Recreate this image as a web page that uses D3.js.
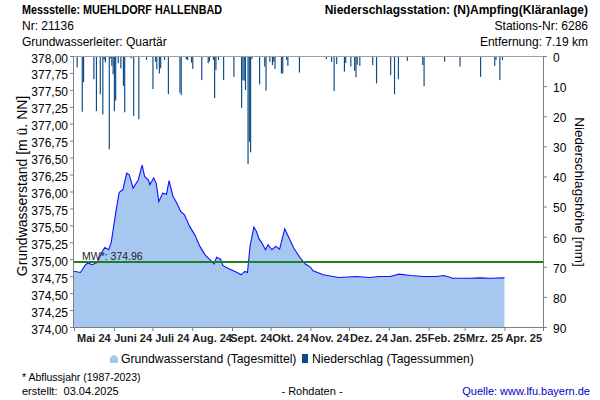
<!DOCTYPE html>
<html><head><meta charset="utf-8">
<script src="https://cdn.jsdelivr.net/npm/d3@7"></script>
<style>
body{margin:0;background:#fff;}
svg{font-family:Arial,"Liberation Sans",sans-serif;}
</style></head>
<body><svg id="c" width="600" height="400"></svg>
<script>
// ---- data ----
const gwDates = ["2024-05-01","2024-05-02","2024-05-06","2024-05-10","2024-05-12","2024-05-15","2024-05-19","2024-05-23","2024-05-25","2024-05-28","2024-05-30","2024-06-02","2024-06-05","2024-06-06","2024-06-08","2024-06-11","2024-06-13","2024-06-16","2024-06-20","2024-06-23","2024-06-25","2024-06-28","2024-06-29","2024-07-02","2024-07-04","2024-07-06","2024-07-09","2024-07-12","2024-07-14","2024-07-17","2024-07-20","2024-07-23","2024-07-26","2024-07-30","2024-08-03","2024-08-07","2024-08-11","2024-08-15","2024-08-18","2024-08-20","2024-08-23","2024-08-25","2024-08-30","2024-09-05","2024-09-08","2024-09-11","2024-09-13","2024-09-15","2024-09-18","2024-09-20","2024-09-22","2024-09-24","2024-09-27","2024-09-29","2024-10-02","2024-10-05","2024-10-08","2024-10-12","2024-10-15","2024-10-19","2024-10-24","2024-10-28","2024-11-01","2024-11-03","2024-11-11","2024-11-23","2024-12-07","2024-12-17","2024-12-25","2025-01-02","2025-01-09","2025-01-18","2025-01-28","2025-02-07","2025-02-13","2025-02-20","2025-03-05","2025-03-13","2025-03-21","2025-04-01"];
const gwValues = [374.82,374.82,374.805,374.92,374.945,374.92,374.95,375.115,375.175,375.14,375.25,375.63,375.975,376.0,376.025,376.27,376.245,376.05,376.17,376.39,376.22,376.17,376.10,376.20,376.12,375.85,375.975,375.96,376.16,375.93,375.83,375.705,375.655,375.485,375.36,375.19,375.065,374.99,374.93,375.03,375.00,374.905,374.855,374.805,374.77,374.82,374.805,375.19,375.475,375.41,375.30,375.25,375.14,375.215,375.14,375.19,375.15,375.45,375.33,375.165,375.02,374.93,374.885,374.83,374.77,374.73,374.745,374.73,374.745,374.745,374.78,374.76,374.745,374.745,374.76,374.72,374.72,374.725,374.72,374.725];
const precipDates = ["2024-05-03","2024-05-07","2024-05-08","2024-05-16","2024-05-18","2024-05-21","2024-05-23","2024-05-24","2024-05-25","2024-05-28","2024-05-29","2024-05-30","2024-05-31","2024-06-01","2024-06-02","2024-06-04","2024-06-06","2024-06-08","2024-06-09","2024-06-14","2024-06-16","2024-06-20","2024-06-26","2024-07-01","2024-07-03","2024-07-04","2024-07-06","2024-07-07","2024-07-10","2024-07-13","2024-07-22","2024-07-23","2024-07-27","2024-07-28","2024-07-31","2024-08-01","2024-08-08","2024-08-13","2024-08-14","2024-08-17","2024-08-18","2024-08-19","2024-08-21","2024-08-25","2024-09-02","2024-09-08","2024-09-09","2024-09-10","2024-09-11","2024-09-13","2024-09-14","2024-09-15","2024-09-16","2024-09-22","2024-09-26","2024-09-27","2024-09-30","2024-10-02","2024-10-03","2024-10-04","2024-10-09","2024-10-10","2024-10-13","2024-10-14","2024-10-23","2024-11-13","2024-11-17","2024-11-19","2024-11-21","2024-11-27","2024-11-28","2024-12-02","2024-12-05","2024-12-06","2024-12-07","2024-12-09","2024-12-19","2024-12-22","2025-01-02","2025-01-05","2025-01-08","2025-01-15","2025-01-27","2025-01-28","2025-02-13","2025-02-25","2025-03-13","2025-03-24","2025-03-25","2025-03-28","2025-03-30"];
const precipValues = [3.8,18.5,8.7,7.7,18.3,12.7,19.4,1.3,2.1,31.0,0.8,3.3,6.1,18.3,14.8,2.4,4.1,9.9,18.7,0.8,19.9,21.0,1.3,11.0,1.9,4.4,5.8,4.1,1.3,12.7,12.2,13.0,1.1,1.3,2.2,4.3,8.0,2.4,1.8,1.3,14.0,4.6,1.3,8.0,6.9,17.2,8.0,8.2,11.3,35.9,28.5,32.0,1.0,9.4,3.5,11.5,1.9,3.0,1.9,4.3,5.8,5.8,1.3,3.3,5.5,1.0,1.9,11.6,2.7,5.2,2.3,3.5,4.9,7.1,2.9,3.3,3.0,9.1,6.3,12.7,7.7,1.6,3.0,10.0,1.9,3.5,6.9,3.3,1.3,8.0,1.3];
const monthLabels = ["Mai 24","Juni 24","Juli 24","Aug. 24","Sept. 24","Okt. 24","Nov. 24","Dez. 24","Jan. 25","Feb. 25","Mrz. 25","Apr. 25"];
const leftTicks = [374,374.25,374.5,374.75,375,375.25,375.5,375.75,376,376.25,376.5,376.75,377,377.25,377.5,377.75,378];
const rightTicks = [0,10,20,30,40,50,60,70,80,90];
const meanValue = 374.96;

// ---- chart ----
const svg = d3.select("#c");
const parse = d3.timeParse("%Y-%m-%d");
const L = 74, R = 543, T = 56, B = 327;
const x = d3.scaleTime().domain([new Date(2024,4,1), new Date(2025,4,1)]).range([L, R]);
const yL = d3.scaleLinear().domain([374,378]).range([B, T]);
const yR = d3.scaleLinear().domain([0,90]).range([T, B]);

const gw = gwDates.map((d,i)=>({date:parse(d), v:gwValues[i]}));
const pr = precipDates.map((d,i)=>({date:parse(d), v:precipValues[i]}));

// groundwater area
svg.append("path").datum(gw)
  .attr("fill","#a6c8f0")
  .attr("d", d3.area().x(d=>x(d.date)).y0(yL(374)).y1(d=>yL(d.v)));
svg.append("path").datum(gw)
  .attr("fill","none").attr("stroke","#1010ff").attr("stroke-width",1.1)
  .attr("d", d3.line().x(d=>x(d.date)).y(d=>yL(d.v)));

// precipitation bars (hanging from top)
const dayW = x(new Date(2024,4,2)) - x(new Date(2024,4,1));
svg.append("g").selectAll("rect").data(pr).join("rect")
  .attr("x", d=>x(d.date)).attr("y", yR(0))
  .attr("width", dayW*0.9).attr("height", d=>yR(d.v)-yR(0))
  .attr("fill","#0b4a84");

// mean line
svg.append("line").attr("x1",L).attr("x2",R)
  .attr("y1",yL(meanValue)).attr("y2",yL(meanValue))
  .attr("stroke","#1f7f1f").attr("stroke-width",2);
svg.append("text").attr("x",82).attr("y",yL(meanValue)-2)
  .attr("font-size",10.5).attr("fill","#222").text("MW*: " + meanValue.toFixed(2));

// frame top
svg.append("line").attr("x1",L).attr("x2",R).attr("y1",T+0.5).attr("y2",T+0.5)
  .attr("stroke","#a0a0a0");

// axes
const fmt = d => d3.format(".2f")(d).replace(".", ",");
const ga = svg.append("g").attr("transform",`translate(${L},0)`)
  .call(d3.axisLeft(yL).tickValues(leftTicks).tickFormat(fmt).tickSize(4).tickPadding(2));
const gr = svg.append("g").attr("transform",`translate(${R},0)`)
  .call(d3.axisRight(yR).tickValues(rightTicks).tickSize(4).tickPadding(6));
const months = d3.timeMonth.range(new Date(2024,4,1), new Date(2025,4,2));
const gb = svg.append("g").attr("transform",`translate(0,${B})`)
  .call(d3.axisBottom(x).tickValues(months).tickFormat("").tickSize(4));
[ga,gr,gb].forEach(g=>{
  g.selectAll(".domain").attr("stroke","#808080");
  g.selectAll(".tick line").attr("stroke","#808080");
  g.selectAll("text").attr("font-size",12).attr("fill","#000").attr("font-family",'Arial,"Liberation Sans",sans-serif');
});
ga.selectAll(".tick text").attr("dy","0.5em");
gr.selectAll(".tick text").attr("dy","0.45em");
ga.select(".domain").attr("d",`M-0.5,${T}V${B+0.5}`);
gr.select(".domain").attr("d",`M0.5,${T}V${B+0.5}`);
gb.select(".domain").attr("d",`M${L},0.5H${R}`);

// month labels centered
svg.append("g").selectAll("text").data(monthLabels).join("text")
  .attr("x",(d,i)=>{const a=months[i], b=months[i+1]; return (x(a)+x(b))/2;})
  .attr("y",342).attr("text-anchor","middle").attr("font-size",11)
  .attr("font-weight","bold").attr("fill","#222").text(d=>d);

// axis titles
svg.append("text").attr("transform","translate(27,186) rotate(-90)")
  .attr("text-anchor","middle").attr("font-size",14).text("Grundwasserstand [m ü. NN]");
svg.append("text").attr("transform","translate(575,192) rotate(90)")
  .attr("text-anchor","middle").attr("font-size",13.5).text("Niederschlagshöhe [mm]");

// header
const hdr = svg.append("g").attr("font-size",12).attr("fill","#000");
hdr.append("text").attr("x",22).attr("y",14).attr("font-weight","bold")
  .attr("textLength",200).attr("lengthAdjust","spacingAndGlyphs").text("Messstelle: MUEHLDORF HALLENBAD");
hdr.append("text").attr("x",22).attr("y",30).text("Nr: 21136");
hdr.append("text").attr("x",22).attr("y",46).text("Grundwasserleiter: Quartär");
hdr.append("text").attr("x",588).attr("y",14).attr("text-anchor","end").attr("font-weight","bold").text("Niederschlagsstation: (N)Ampfing(Kläranlage)");
hdr.append("text").attr("x",588).attr("y",30).attr("text-anchor","end").text("Stations-Nr: 6286");
hdr.append("text").attr("x",588).attr("y",46).attr("text-anchor","end").text("Entfernung: 7.19 km");

// legend
const lg = svg.append("g").attr("font-size",12.2);
lg.append("path").attr("d","M110,363 L110,358 Q114,352 118,358 L118,363 Z").attr("fill","#a6c8f0");
lg.append("text").attr("x",121).attr("y",363).text("Grundwasserstand (Tagesmittel)");
lg.append("rect").attr("x",302).attr("y",354).attr("width",6).attr("height",9).attr("fill","#0b4a84");
lg.append("text").attr("x",312).attr("y",363).text("Niederschlag (Tagessummen)");

// footer
svg.append("text").attr("x",22).attr("y",381).attr("font-size",10.5).text("* Abflussjahr (1987-2023)");
svg.append("text").attr("x",22).attr("y",395).attr("font-size",11).attr("xml:space","preserve").text("erstellt:  03.04.2025");
svg.append("text").attr("x",312).attr("y",395).attr("font-size",11).attr("text-anchor","middle").text("- Rohdaten -");
svg.append("text").attr("x",590).attr("y",395).attr("font-size",11).attr("text-anchor","end").attr("fill","#0000cc").text("Quelle: www.lfu.bayern.de");
</script></body></html>
